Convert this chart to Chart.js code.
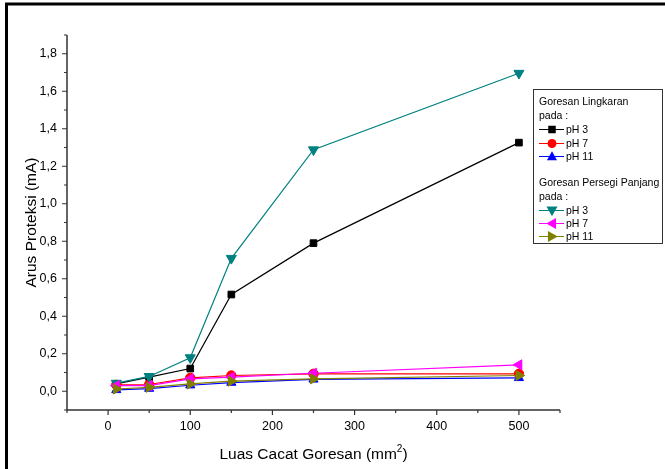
<!DOCTYPE html>
<html>
<head>
<meta charset="utf-8">
<script src="https://cdn.jsdelivr.net/npm/chart.js@4.4.1/dist/chart.umd.min.js"></script>
<style>
html,body{margin:0;padding:0;background:#fff;}
canvas{display:block;}
</style>
</head>
<body>
<canvas id="c" width="665" height="469"></canvas>
<script>
// ---- data ----
const luas = [10, 50, 100, 150, 250, 500];
const lingkaranPH3 = [0.039, 0.075, 0.121, 0.516, 0.790, 1.326];
const lingkaranPH7 = [0.034, 0.036, 0.071, 0.084, 0.093, 0.093];
const lingkaranPH11 = [0.007, 0.014, 0.032, 0.046, 0.063, 0.071];
const persegiPH3 = [0.043, 0.079, 0.179, 0.709, 1.288, 1.696];
const persegiPH7 = [0.030, 0.030, 0.066, 0.075, 0.096, 0.141];
const persegiPH11 = [0.012, 0.021, 0.039, 0.054, 0.066, 0.084];
const xMajorTicks = [0, 100, 200, 300, 400, 500];
const yMajorTicks = [0, 0.2, 0.4, 0.6, 0.8, 1.0, 1.2, 1.4, 1.6, 1.8];
const legendTitle1 = ["Goresan Lingkaran", "pada :"];
const legendTitle2 = ["Goresan Persegi Panjang", "pada :"];
const seriesLabels = ["pH 3", "pH 7", "pH 11", "pH 3", "pH 7", "pH 11"];

const FONT = '"Liberation Sans", Arial, sans-serif';

function pts(ys){ return luas.map((x,i)=>({x:x, y:ys[i]})); }

const styles = [
  {color:'#000000', style:'rect', rot:0, r:4.7},
  {color:'#ff0000', style:'circle', rot:0, r:4.7},
  {color:'#0000ff', style:'triangle', rot:0, r:5.3},
  {color:'#008080', style:'triangle', rot:180, r:5.8},
  {color:'#ff00ff', style:'triangle', rot:270, r:5.8},
  {color:'#808000', style:'triangle', rot:90, r:5.8}
];
const allData = [lingkaranPH3, lingkaranPH7, lingkaranPH11, persegiPH3, persegiPH7, persegiPH11];

const datasets = allData.map((d,i)=>({
  label: seriesLabels[i],
  data: pts(d),
  borderColor: styles[i].color,
  backgroundColor: styles[i].color,
  borderWidth: 1.2,
  pointStyle: styles[i].style,
  pointRotation: styles[i].rot,
  pointRadius: styles[i].r,
  pointBorderWidth: 1,
  pointBackgroundColor: styles[i].color,
  pointBorderColor: styles[i].color,
  tension: 0,
  order: 10 - i
}));

function marker(ctx, st, x, y){
  ctx.save();
  ctx.fillStyle = st.color;
  ctx.strokeStyle = st.color;
  ctx.translate(x, y);
  ctx.rotate(st.rot*Math.PI/180);
  const r = st.r;
  ctx.beginPath();
  if (st.style==='rect'){
    ctx.rect(-r*0.8, -r*0.8, r*1.6, r*1.6);
  } else if (st.style==='circle'){
    ctx.arc(0,0,r*0.95,0,Math.PI*2);
  } else {
    ctx.moveTo(0, -r);
    ctx.lineTo(r*0.95, r*0.7);
    ctx.lineTo(-r*0.95, r*0.7);
    ctx.closePath();
  }
  ctx.fill();
  ctx.restore();
}

const decor = {
  id: 'decor',
  afterDraw(chart){
    const ctx = chart.ctx;
    const xs = chart.scales.x, ys = chart.scales.y;
    const ca = chart.chartArea;
    ctx.save();
    // axes
    ctx.strokeStyle = '#333';
    ctx.lineWidth = 1.5;
    ctx.beginPath();
    ctx.moveTo(ca.left, ca.top);
    ctx.lineTo(ca.left, ca.bottom);
    ctx.lineTo(ca.right, ca.bottom);
    ctx.stroke();
    // ticks
    ctx.lineWidth = 1.2;
    ctx.beginPath();
    for (let v = xs.min; v <= xs.max + 1e-6; v += 50){
      const px = xs.getPixelForValue(v);
      const major = xMajorTicks.includes(Math.round(v));
      ctx.moveTo(px, ca.bottom);
      ctx.lineTo(px, ca.bottom + (major ? 5 : 3));
    }
    for (let k = -1; k <= 19; k++){
      const v = k/10;
      const py = ys.getPixelForValue(v);
      const major = (k >= 0 && k % 2 === 0);
      ctx.moveTo(ca.left, py);
      ctx.lineTo(ca.left - (major ? 5 : 3), py);
    }
    ctx.stroke();
    // axis titles
    ctx.fillStyle = '#000';
    ctx.font = '15.5px ' + FONT;
    ctx.textBaseline = 'middle';
    const tx = (ca.left + ca.right)/2;
    const base = 'Luas Cacat Goresan (mm';
    const w1 = ctx.measureText(base).width;
    ctx.font = '10px ' + FONT;
    const w2 = ctx.measureText('2').width;
    ctx.font = '15.5px ' + FONT;
    const w3 = ctx.measureText(')').width;
    let sx = tx - (w1 + w2 + w3)/2;
    ctx.textAlign = 'left';
    ctx.fillText(base, sx, 455);
    ctx.font = '10px ' + FONT;
    ctx.fillText('2', sx + w1, 449);
    ctx.font = '15.5px ' + FONT;
    ctx.fillText(')', sx + w1 + w2, 455);
    ctx.save();
    ctx.translate(32, (ca.top + ca.bottom)/2);
    ctx.rotate(-Math.PI/2);
    ctx.textAlign = 'center';
    ctx.fillText('Arus Proteksi (mA)', 0, 0);
    ctx.restore();
    // frame
    ctx.strokeStyle = '#000';
    ctx.lineWidth = 3;
    ctx.beginPath();
    ctx.moveTo(6.5, 469);
    ctx.lineTo(6.5, 4);
    ctx.lineTo(665, 4);
    ctx.stroke();
    // legend
    const lx = 533.5, ly = 89.5, lw = 129, lh = 154;
    ctx.fillStyle = '#fff';
    ctx.fillRect(lx, ly, lw, lh);
    ctx.strokeStyle = '#333';
    ctx.lineWidth = 1;
    ctx.strokeRect(lx, ly, lw, lh);
    ctx.font = '10.5px ' + FONT;
    ctx.fillStyle = '#000';
    ctx.textAlign = 'left';
    ctx.textBaseline = 'middle';
    const tX = 539;
    ctx.fillText(legendTitle1[0], tX, 102);
    ctx.fillText(legendTitle1[1], tX, 116);
    ctx.fillText(legendTitle2[0], tX, 183);
    ctx.fillText(legendTitle2[1], tX, 197);
    const rowsY = [129, 143, 156, 210, 223, 236];
    rowsY.forEach((y,i)=>{
      ctx.strokeStyle = styles[i].color;
      ctx.lineWidth = 1;
      ctx.beginPath();
      ctx.moveTo(539, y + 0.5);
      ctx.lineTo(564, y + 0.5);
      ctx.stroke();
      marker(ctx, styles[i], 552, y + 0.5);
      ctx.fillStyle = '#000';
      ctx.fillText(seriesLabels[i], 566, y + 1);
    });
    ctx.restore();
  }
};

new Chart(document.getElementById('c'), {
  type: 'line',
  data: { datasets: datasets },
  options: {
    responsive: false,
    animation: false,
    devicePixelRatio: 1,
    layout: { padding: { left: 0, top: 35, right: 105, bottom: 0 } },
    plugins: { legend: { display: false }, tooltip: { enabled: false } },
    scales: {
      x: {
        type: 'linear',
        min: -50, max: 550,
        grid: { display: false, drawTicks: false, tickLength: 0 },
        border: { display: false },
        afterFit(s){ s.height = 59; },
        afterBuildTicks(s){ s.ticks = xMajorTicks.map(v=>({value:v})); },
        ticks: {
          color: '#000', padding: 9, maxRotation: 0, autoSkip: false,
          font: { family: FONT, size: 12.5 },
          callback: v => String(v)
        }
      },
      y: {
        type: 'linear',
        min: -0.1, max: 1.9,
        grid: { display: false, drawTicks: false, tickLength: 0 },
        border: { display: false },
        afterFit(s){ s.width = 67; },
        afterBuildTicks(s){ s.ticks = yMajorTicks.map(v=>({value:v})); },
        ticks: {
          color: '#000', padding: 10, autoSkip: false,
          font: { family: FONT, size: 12.5 },
          callback: v => Number(v).toFixed(1).replace('.', ',')
        }
      }
    }
  },
  plugins: [decor]
});
</script>
</body>
</html>
